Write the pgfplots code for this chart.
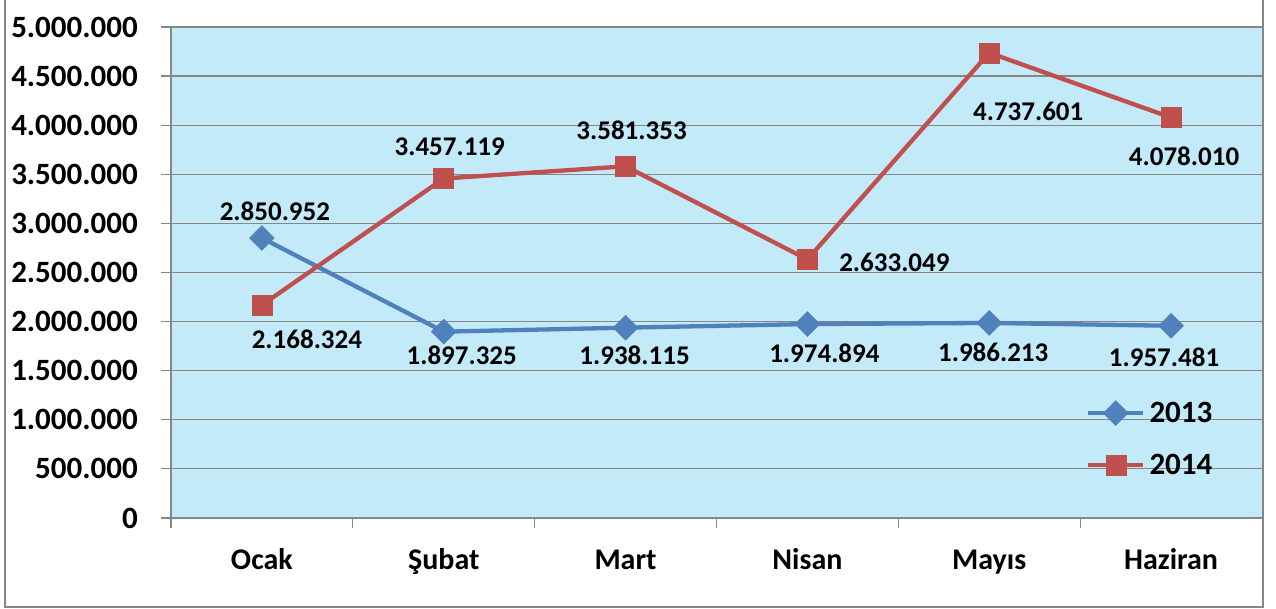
\documentclass[border=0pt]{standalone}
\usepackage{fontspec}
\setmainfont{Carlito}
\usepackage{pgfplots}
\pgfplotsset{compat=1.18}
\definecolor{bgblue}{RGB}{194,234,248}
\definecolor{gridgray}{RGB}{134,134,134}
\definecolor{sA}{RGB}{79,129,189}
\definecolor{sB}{RGB}{192,80,77}
\newcommand\tickfont{\fontsize{31bp}{36bp}\selectfont\bfseries}
\newcommand\catfont{\fontsize{30bp}{36bp}\selectfont\bfseries}
\newcommand\lblfont{\fontsize{27bp}{32bp}\selectfont\bfseries}
\newcommand\legfont{\fontsize{31bp}{36bp}\selectfont\bfseries}
\begin{document}
\begin{tikzpicture}
\useasboundingbox (-171bp,-91bp) rectangle (1105bp,518bp);
\begin{axis}[
  at={(0,0)}, anchor=south west,
  scale only axis, width=1091bp, height=491bp,
  xmin=-0.5, xmax=5.5, ymin=0, ymax=5000000,
  scaled y ticks=false,
  axis background/.style={fill=bgblue},
  axis lines*=left,
  axis line style={gridgray, line width=1.2bp, -},
  ytick={0,500000,1000000,1500000,2000000,2500000,3000000,3500000,4000000,4500000,5000000},
  yticklabels={0,500.000,1.000.000,1.500.000,2.000.000,2.500.000,3.000.000,3.500.000,4.000.000,4.500.000,5.000.000},
  ymajorgrids, grid style={gridgray, line width=1.2bp},
  xtick={0,1,2,3,4,5},
  xticklabels={Ocak,Şubat,Mart,Nisan,Mayıs,Haziran},
  minor xtick={-0.5,0.5,1.5,2.5,3.5,4.5},
  tick align=outside,
  major tick length=10bp, minor tick length=10bp,
  major x tick style={draw=none},
  minor x tick style={draw=gridgray, line width=1.2bp},
  major y tick style={draw=gridgray, line width=1.2bp},
  yticklabel style={font=\tickfont, anchor=east, inner sep=0pt, xshift=-23bp},
  xticklabel style={font=\catfont, anchor=base, inner sep=0pt, yshift=-41bp},
  legend style={at={(axis description cs:0.8387,0.1609)}, anchor=west,
    draw=none, fill=none, inner sep=0pt, font=\legfont, row sep=22bp,
    nodes={inner sep=4bp}},
  legend cell align=left,
  legend image code/.code={\draw[mark repeat=2,mark phase=2,#1] plot coordinates {(0bp,0bp) (27.5bp,0bp) (55bp,0bp)};},
  clip=false,
]
\addplot[sA, line width=4.3bp, mark=square*, mark size=8.8bp, mark options={rotate=45, fill=sA, draw=sA, line width=0.5bp}]
  coordinates {(0,2850952) (1,1897325) (2,1938115) (3,1974894) (4,1986213) (5,1957481)};
\addlegendentry{2013}
\addplot[sB, line width=4.3bp, mark=square*, mark size=10bp, mark options={fill=sB, draw=sB, line width=0.5bp}]
  coordinates {(0,2168324) (1,3457119) (2,3581353) (3,2633049) (4,4737601) (5,4078010)};
\addlegendentry{2014}
\begin{scope}[every node/.style={font=\lblfont, inner sep=0pt}]
\node[xshift=13bp, yshift=27bp] at (axis cs:0,2850952) {2.850.952};
\node[xshift=18bp, yshift=-24bp] at (axis cs:1,1897325) {1.897.325};
\node[xshift=9bp, yshift=-28bp] at (axis cs:2,1938115) {1.938.115};
\node[xshift=17bp, yshift=-29bp] at (axis cs:3,1974894) {1.974.894};
\node[xshift=4bp, yshift=-29bp] at (axis cs:4,1986213) {1.986.213};
\node[xshift=-7bp, yshift=-32bp] at (axis cs:5,1957481) {1.957.481};
\node[xshift=45bp, yshift=-34bp] at (axis cs:0,2168324) {2.168.324};
\node[xshift=6bp, yshift=32bp] at (axis cs:1,3457119) {3.457.119};
\node[xshift=6bp, yshift=36bp] at (axis cs:2,3581353) {3.581.353};
\node[xshift=87bp, yshift=-3bp] at (axis cs:3,2633049) {2.633.049};
\node[xshift=39bp, yshift=-59bp] at (axis cs:4,4737601) {4.737.601};
\node[xshift=13bp, yshift=-39bp] at (axis cs:5,4078010) {4.078.010};
\end{scope}
\end{axis}
\draw[gridgray, line width=2bp] (-166bp,530bp) -- (-166bp,-88.5bp) -- (1092bp,-88.5bp) -- (1092bp,530bp);
\end{tikzpicture}
\end{document}
